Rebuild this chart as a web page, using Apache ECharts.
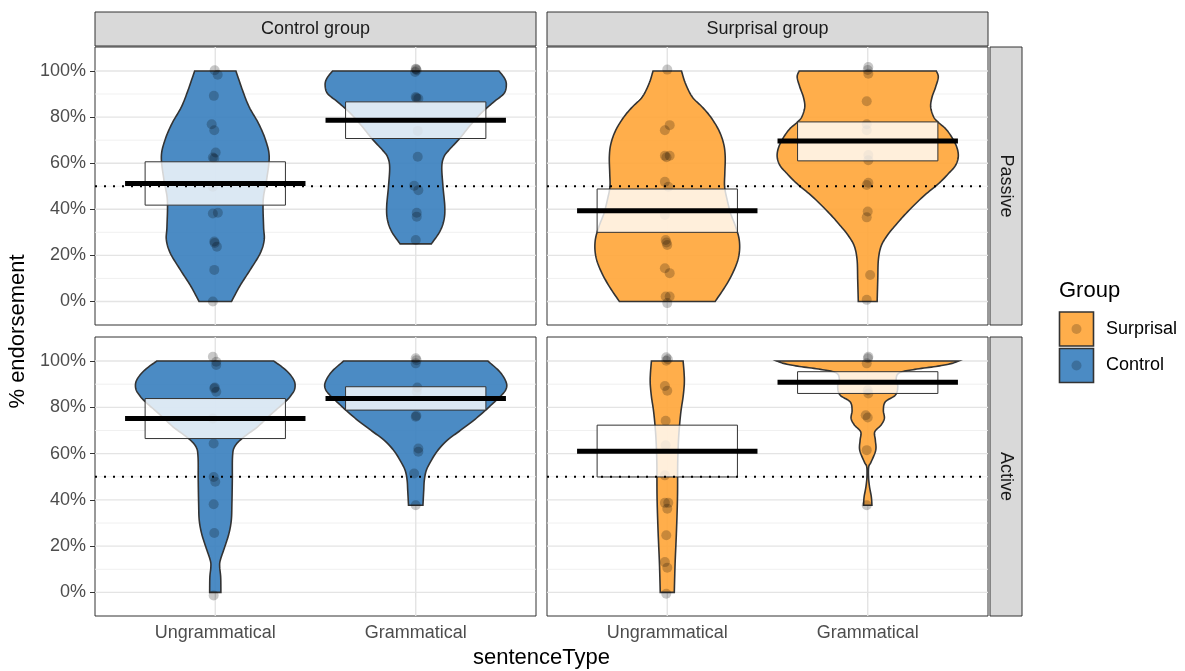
<!DOCTYPE html>
<html>
<head>
<meta charset="utf-8">
<script src="https://cdn.jsdelivr.net/npm/echarts@6/dist/echarts.min.js"></script>
<style>
  html, body { margin: 0; padding: 0; background: #fff; }
  #chart { width: 1185px; height: 671px; }
</style>
</head>
<body>
<div id="chart"></div>
<script>
// categories / ticks
const groups = ['Control group', 'Surprisal group'];
const voices = ['Passive', 'Active'];
const sentenceTypes = ['Ungrammatical', 'Grammatical'];
const legendGroups = ['Surprisal', 'Control'];
const xTickValues = [1, 2];
const yMajor = [0, 20, 40, 60, 80, 100];
const yMinor = [10, 30, 50, 70, 90];
const refLine = 50;

// violin outlines: [endorsement %, half width in x units], top to bottom
const cpuViolin = [[100,0.103],[91.6,0.136],[84.4,0.169],[77.2,0.216],[70.0,0.251],[62.8,0.269],[52.7,0.256],[44.0,0.239],[32.5,0.241],[26.7,0.244],[20.9,0.224],[13.7,0.174],[6.5,0.121],[0,0.081]];
const cpgViolin = [[100,0.415],[96.7,0.444],[93.8,0.452],[90.2,0.440],[86.6,0.390],[81.5,0.324],[75.8,0.266],[70.7,0.219],[65.7,0.166],[62.8,0.141],[58.4,0.130],[49.8,0.136],[41.1,0.145],[35.4,0.141],[30.3,0.120],[25.0,0.078]];
const spuViolin = [[100,0.071],[94.5,0.091],[88.7,0.125],[84.4,0.174],[80.1,0.216],[74.3,0.257],[68.5,0.281],[62.8,0.289],[55.6,0.287],[49.8,0.286],[44.0,0.299],[38.2,0.316],[32.5,0.341],[26.7,0.359],[20.9,0.359],[15.2,0.341],[7.9,0.299],[0,0.239]];
const spgViolin = [[100,0.342],[97.4,0.352],[93.1,0.339],[88.7,0.321],[84.4,0.314],[80.1,0.329],[77.9,0.350],[74.3,0.395],[68.5,0.437],[63.5,0.452],[59.2,0.439],[55.6,0.404],[51.2,0.354],[45.5,0.276],[38.2,0.191],[32.5,0.133],[28.1,0.093],[23.8,0.066],[18.0,0.053],[9.4,0.050],[0,0.047]];
const cauViolin = [[100,0.292],[96.1,0.352],[91.8,0.392],[88.2,0.397],[85.3,0.379],[82.4,0.349],[77.3,0.282],[71.6,0.211],[66.5,0.133],[62.9,0.096],[58.6,0.086],[48.5,0.085],[38.4,0.083],[31.2,0.080],[25.4,0.068],[19.6,0.047],[13.9,0.025],[11.0,0.022],[6.6,0.027],[0,0.028]];
const cagViolin = [[100,0.360],[95.4,0.419],[91.1,0.450],[88.2,0.452],[85.3,0.429],[81.7,0.385],[78.8,0.349],[74.5,0.291],[70.1,0.224],[65.8,0.158],[61.5,0.111],[57.1,0.078],[52.8,0.053],[48.5,0.043],[44.2,0.040],[37.7,0.036]];
const sauViolin = [[100,0.079],[94.7,0.084],[90.3,0.085],[84.6,0.079],[78.8,0.069],[73.0,0.062],[65.8,0.056],[55.7,0.052],[41.3,0.051],[26.8,0.046],[12.4,0.039],[0,0.035]];
const sagViolin = [[100,0.453],[99.0,0.42],[97.8,0.35],[96.4,0.235],[95.0,0.16],[92.5,0.142],[88.9,0.15],[85.3,0.138],[82.4,0.088],[78.8,0.078],[75.2,0.083],[72.3,0.066],[69.4,0.035],[65.8,0.038],[61.5,0.040],[56.4,0.017],[54.3,0.005],[49.9,0.004],[45.6,0.009],[41.3,0.018],[37.7,0.021]];

// jittered raw points: [x offset, endorsement %]
const cpuPoints = [[-0.003,100.3],[0.012,98.4],[-0.007,89.2],[-0.018,76.9],[-0.005,74.3],[0.002,64.6],[-0.005,62.0],[-0.012,62.5],[-0.012,49.8],[0.013,38.5],[-0.012,38.2],[-0.005,26.0],[-0.003,25.4],[0.008,23.8],[-0.005,13.7],[-0.012,0]];
const cpgPoints = [[0,101.0],[0.005,100.3],[-0.003,99.6],[0.002,100.8],[0,88.7],[0.013,88.0],[0.004,88.3],[0.010,74.0],[0.010,62.8],[-0.008,50.2],[0.013,48.3],[0.005,38.5],[0.005,36.8],[0,26.7]];
const spuPoints = [[0,100.6],[0.012,76.5],[-0.012,74.3],[-0.012,63.2],[0.012,63.2],[-0.004,62.6],[-0.012,51.9],[0.005,49.8],[-0.012,37.5],[-0.008,26.7],[0,24.5],[-0.004,25.6],[-0.012,14.4],[0.012,12.3],[-0.008,2.2],[0.012,2.2],[0,-0.7]];
const spgPoints = [[0.003,101.7],[0.003,98.8],[0,100.4],[-0.005,86.9],[-0.005,76.9],[-0.005,74.3],[0.003,63.5],[0.003,61.3],[0.003,51.5],[-0.005,50.5],[0,39.0],[-0.005,36.5],[0.012,11.5],[-0.005,0.7]];
const cauPoints = [[-0.012,101.9],[0.005,99.7],[0.005,98.3],[-0.005,88.2],[-0.002,88.6],[0.005,86.7],[-0.012,75.2],[-0.008,64.4],[-0.008,49.9],[0,47.8],[-0.008,38.1],[-0.005,25.7],[-0.008,-1.3]];
const cagPoints = [[0,101.2],[0,99.0],[0.004,100.4],[0.008,88.6],[0.005,86.7],[0,75.9],[0.003,76.4],[0.013,62.2],[0.013,60.8],[-0.008,51.4],[0,37.7]];
const sauPoints = [[-0.005,101.6],[-0.005,100.1],[0.003,100.8],[-0.012,89.2],[0,87.2],[-0.008,74.2],[-0.008,63.6],[-0.012,50.6],[-0.012,38.7],[0.005,38.7],[0,36.2],[-0.005,24.7],[-0.012,13.1],[0,10.7],[-0.005,-0.6]];
const sagPoints = [[0.003,101.9],[0.001,101.2],[-0.005,99.0],[0,87.4],[0.003,86.0],[-0.010,76.6],[0,75.6],[-0.005,61.5],[-0.005,37.7]];

// [mean, lower, upper]
const cpuStats = [51.2, 41.8, 60.6];
const cpgStats = [78.6, 70.7, 86.6];
const spuStats = [39.4, 30.0, 48.8];
const spgStats = [69.6, 61.0, 77.9];
const cauStats = [75.2, 66.5, 83.8];
const cagStats = [83.8, 78.8, 88.9];
const sauStats = [61.0, 49.9, 72.3];
const sagStats = [90.8, 86.0, 95.4];

const blueFill = 'rgba(55,126,190,0.9)';
const orangeFill = 'rgba(255,165,55,0.9)';
const font = '"Liberation Sans", Arial, Helvetica, sans-serif';

const gridBoxes = [
  { left: 95, top: 47, width: 441, height: 278 },
  { left: 547, top: 47, width: 441, height: 278 },
  { left: 95, top: 337, width: 441, height: 279 },
  { left: 547, top: 337, width: 441, height: 279 }
];

const panels = [
  { fill: blueFill, cells: [[cpuViolin, cpuPoints, cpuStats], [cpgViolin, cpgPoints, cpgStats]] },
  { fill: orangeFill, cells: [[spuViolin, spuPoints, spuStats], [spgViolin, spgPoints, spgStats]] },
  { fill: blueFill, cells: [[cauViolin, cauPoints, cauStats], [cagViolin, cagPoints, cagStats]] },
  { fill: orangeFill, cells: [[sauViolin, sauPoints, sauStats], [sagViolin, sagPoints, sagStats]] }
];

// catmull-rom through outline points (pixel space)
function splinePts(pts) {
  const out = [pts[0]];
  for (let i = 0; i < pts.length - 1; i++) {
    const p0 = pts[Math.max(i - 1, 0)], p1 = pts[i], p2 = pts[i + 1], p3 = pts[Math.min(i + 2, pts.length - 1)];
    for (let k = 1; k <= 10; k++) {
      const t = k / 10, t2 = t * t, t3 = t2 * t;
      const f = j => 0.5 * (2 * p1[j] + (-p0[j] + p2[j]) * t + (2 * p0[j] - 5 * p1[j] + 4 * p2[j] - p3[j]) * t2 + (-p0[j] + 3 * p1[j] - 3 * p2[j] + p3[j]) * t3);
      out.push([f(0), f(1)]);
    }
  }
  return out;
}

const chart = echarts.init(document.getElementById('chart'));

const grid = gridBoxes.map(b => Object.assign({ show: true, borderColor: '#333', borderWidth: 1, backgroundColor: '#fff' }, b));

const xAxis = gridBoxes.map((b, i) => {
  const bottom = i >= 2;
  return {
    gridIndex: i, type: 'value', min: 0.4, max: 2.6,
    axisLine: { show: false }, splitLine: { show: false },
    axisTick: bottom ? { show: true, customValues: xTickValues, length: 5, lineStyle: { color: '#333', width: 1 } } : { show: false },
    axisLabel: bottom ? { show: true, customValues: xTickValues, formatter: v => sentenceTypes[Math.round(v) - 1], color: '#4d4d4d', fontSize: 18, fontFamily: font, margin: 8 } : { show: false }
  };
});

const yAxis = gridBoxes.map((b, i) => {
  const left = i % 2 === 0;
  return {
    gridIndex: i, type: 'value', min: -10.2, max: 110.4,
    axisLine: { show: false }, splitLine: { show: false },
    axisTick: left ? { show: true, customValues: yMajor, length: 5, lineStyle: { color: '#333', width: 1 } } : { show: false },
    axisLabel: left ? { show: true, customValues: yMajor, formatter: v => v + '%', color: '#4d4d4d', fontSize: 18, fontFamily: font, margin: 9 } : { show: false }
  };
});

const series = [];
panels.forEach((p, i) => {
  // horizontal grid lines
  series.push({
    type: 'custom', xAxisIndex: i, yAxisIndex: i, silent: true, z: 1,
    data: yMajor.concat(yMinor).map(v => [1.5, v]),
    renderItem: (params, api) => {
      const v = api.value(1);
      const a = api.coord([0.4, v]), c = api.coord([2.6, v]);
      const major = yMajor.includes(v);
      return { type: 'line', shape: { x1: a[0], y1: a[1], x2: c[0], y2: c[1] },
        style: { stroke: major ? '#e4e4e4' : '#eeeeee', lineWidth: major ? 1.4 : 0.9 } };
    }
  });
  // vertical grid lines
  series.push({
    type: 'custom', xAxisIndex: i, yAxisIndex: i, silent: true, z: 1,
    data: xTickValues.map(v => [v, 50]),
    renderItem: (params, api) => {
      const v = api.value(0);
      const a = api.coord([v, -10.2]), c = api.coord([v, 110.4]);
      return { type: 'line', shape: { x1: a[0], y1: a[1], x2: c[0], y2: c[1] },
        style: { stroke: '#e4e4e4', lineWidth: 1.4 } };
    }
  });
  // violins
  series.push({
    type: 'custom', xAxisIndex: i, yAxisIndex: i, silent: true, z: 2,
    data: xTickValues.map(v => [v, 50]),
    renderItem: (params, api) => {
      const xc = api.value(0);
      const prof = p.cells[params.dataIndex][0];
      const right = prof.map(([y, hw]) => api.coord([xc + hw, y]));
      const left = prof.map(([y, hw]) => api.coord([xc - hw, y])).reverse();
      const pts = splinePts(right).concat(splinePts(left));
      return { type: 'polygon', shape: { points: pts },
        style: { fill: p.fill, stroke: '#333', lineWidth: 1.6 } };
    }
  });
  // raw points
  const pts = [];
  p.cells.forEach((c, k) => c[1].forEach(([dx, y]) => pts.push([xTickValues[k] + dx, y])));
  series.push({
    type: 'scatter', xAxisIndex: i, yAxisIndex: i, silent: true, z: 3,
    symbolSize: 10, itemStyle: { color: 'rgba(0,0,0,0.27)' }, data: pts
  });
  // inference box + mean line
  series.push({
    type: 'custom', xAxisIndex: i, yAxisIndex: i, silent: true, z: 4,
    data: p.cells.map((c, k) => [xTickValues[k], c[2][0], c[2][1], c[2][2]]),
    renderItem: (params, api) => {
      const xc = api.value(0), m = api.value(1), lo = api.value(2), hi = api.value(3);
      const tl = api.coord([xc - 0.35, hi]), br = api.coord([xc + 0.35, lo]);
      const l1 = api.coord([xc - 0.45, m]), l2 = api.coord([xc + 0.45, m]);
      return { type: 'group', children: [
        { type: 'rect', shape: { x: tl[0], y: tl[1], width: br[0] - tl[0], height: br[1] - tl[1] },
          style: { fill: 'rgba(255,255,255,0.8)', stroke: '#333', lineWidth: 1 } },
        { type: 'line', shape: { x1: l1[0], y1: l1[1], x2: l2[0], y2: l2[1] },
          style: { stroke: '#000', lineWidth: 5, lineCap: 'butt' } }
      ] };
    }
  });
  // 50% reference
  series.push({
    type: 'custom', xAxisIndex: i, yAxisIndex: i, silent: true, z: 5,
    data: [[1.5, refLine]],
    renderItem: (params, api) => {
      const v = api.value(1);
      const a = api.coord([0.4, v]), c = api.coord([2.6, v]);
      return { type: 'line', shape: { x1: a[0], y1: a[1], x2: c[0], y2: c[1] },
        style: { stroke: '#000', lineWidth: 2, lineDash: [2, 7] } };
    }
  });
});

// strips, axis titles, legend
const graphic = [];
groups.forEach((g, k) => {
  const b = gridBoxes[k];
  graphic.push({ type: 'rect', shape: { x: b.left, y: 12, width: b.width, height: 34 },
    style: { fill: '#d9d9d9', stroke: '#333', lineWidth: 1 } });
  graphic.push({ type: 'text', x: b.left + b.width / 2, y: 29,
    style: { text: g, fill: '#1a1a1a', font: '18px ' + font, align: 'center', verticalAlign: 'middle' } });
});
voices.forEach((v, k) => {
  const b = gridBoxes[k * 2 + 1];
  graphic.push({ type: 'rect', shape: { x: 990, y: b.top, width: 32, height: b.height },
    style: { fill: '#d9d9d9', stroke: '#333', lineWidth: 1 } });
  graphic.push({ type: 'text', x: 1006, y: b.top + b.height / 2, rotation: -Math.PI / 2,
    style: { text: v, fill: '#1a1a1a', font: '18px ' + font, align: 'center', verticalAlign: 'middle' } });
});
graphic.push({ type: 'text', x: 18, y: 331.5, rotation: Math.PI / 2,
  style: { text: '% endorsement', fill: '#000', font: '22px ' + font, align: 'center', verticalAlign: 'middle' } });
graphic.push({ type: 'text', x: 541.5, y: 658,
  style: { text: 'sentenceType', fill: '#000', font: '22px ' + font, align: 'center', verticalAlign: 'middle' } });
graphic.push({ type: 'text', x: 1059, y: 291,
  style: { text: 'Group', fill: '#000', font: '22px ' + font, align: 'left', verticalAlign: 'middle' } });
legendGroups.forEach((g, k) => {
  const y0 = 312 + k * 36.5;
  graphic.push({ type: 'rect', shape: { x: 1059.5, y: y0, width: 34, height: 34 },
    style: { fill: k === 0 ? orangeFill : blueFill, stroke: '#333', lineWidth: 1.6 } });
  graphic.push({ type: 'circle', shape: { cx: 1076.5, cy: y0 + 17, r: 5 },
    style: { fill: 'rgba(0,0,0,0.2)' } });
  graphic.push({ type: 'text', x: 1106, y: y0 + 17,
    style: { text: g, fill: '#000', font: '18px ' + font, align: 'left', verticalAlign: 'middle' } });
});

chart.setOption({
  animation: false,
  backgroundColor: '#fff',
  grid: grid,
  xAxis: xAxis,
  yAxis: yAxis,
  series: series,
  graphic: graphic
});
</script>
</body>
</html>
